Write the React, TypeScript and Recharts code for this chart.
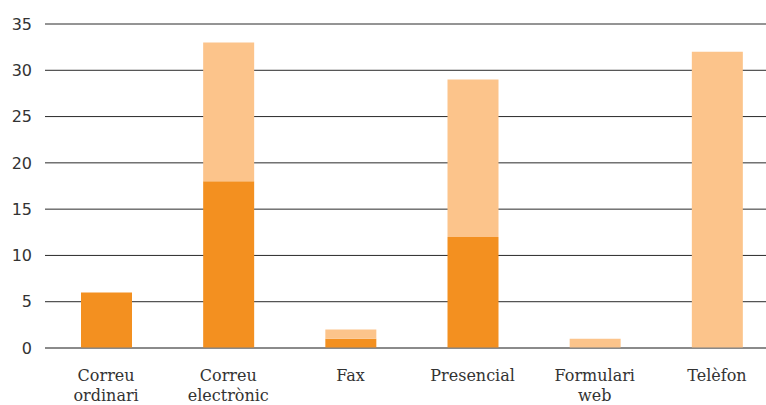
import React from "react";
import { BarChart, Bar, XAxis, YAxis, CartesianGrid } from "recharts";

const categories = [
  "Correu\nordinari",
  "Correu\nelectrònic",
  "Fax",
  "Presencial",
  "Formulari\nweb",
  "Telèfon",
];
const darkValues = [6, 18, 1, 12, 0, 0];
const lightValues = [0, 15, 1, 17, 1, 32];
const yTicks = [0, 5, 10, 15, 20, 25, 30, 35];

const data = categories.map((name, i) => ({
  name,
  dark: darkValues[i],
  light: lightValues[i],
}));

// x labels can wrap onto two lines
const CategoryTick = (props: any) => {
  const { x, y, payload } = props;
  const lines = String(payload.value).split("\n");
  return (
    <g transform={`translate(${x},${y})`}>
      <text
        textAnchor="middle"
        fill="#333"
        fontFamily="'DejaVu Serif', serif"
        fontSize={16}
      >
        {lines.map((line, i) => (
          <tspan key={i} x={0} y={25 + i * 20}>
            {line}
          </tspan>
        ))}
      </text>
    </g>
  );
};

export default function App() {
  return (
    <div
      style={{
        position: "absolute",
        left: 0,
        top: 0,
        width: 766,
        height: 405,
        overflow: "hidden",
        background: "#fff",
      }}
    >
      <BarChart
        width={780}
        height={405}
        data={data}
        margin={{ top: 24, right: 2, bottom: 7, left: 0 }}
      >
        <CartesianGrid vertical={false} stroke="#2a2a2a" strokeWidth={1} />
        <XAxis
          dataKey="name"
          height={50}
          interval={0}
          tickLine={false}
          axisLine={{ stroke: "#808080" }}
          tick={<CategoryTick />}
        />
        <YAxis
          width={45}
          domain={[0, 35]}
          ticks={yTicks}
          axisLine={false}
          tickLine={false}
          tickSize={0}
          tickMargin={13}
          tick={{
            fill: "#333",
            fontSize: 16,
            fontFamily: "'DejaVu Sans', sans-serif",
          }}
        />
        <Bar dataKey="dark" stackId="a" fill="#F39020" barSize={51} isAnimationActive={false} />
        <Bar dataKey="light" stackId="a" fill="#FCC48B" barSize={51} isAnimationActive={false} />
      </BarChart>
    </div>
  );
}
